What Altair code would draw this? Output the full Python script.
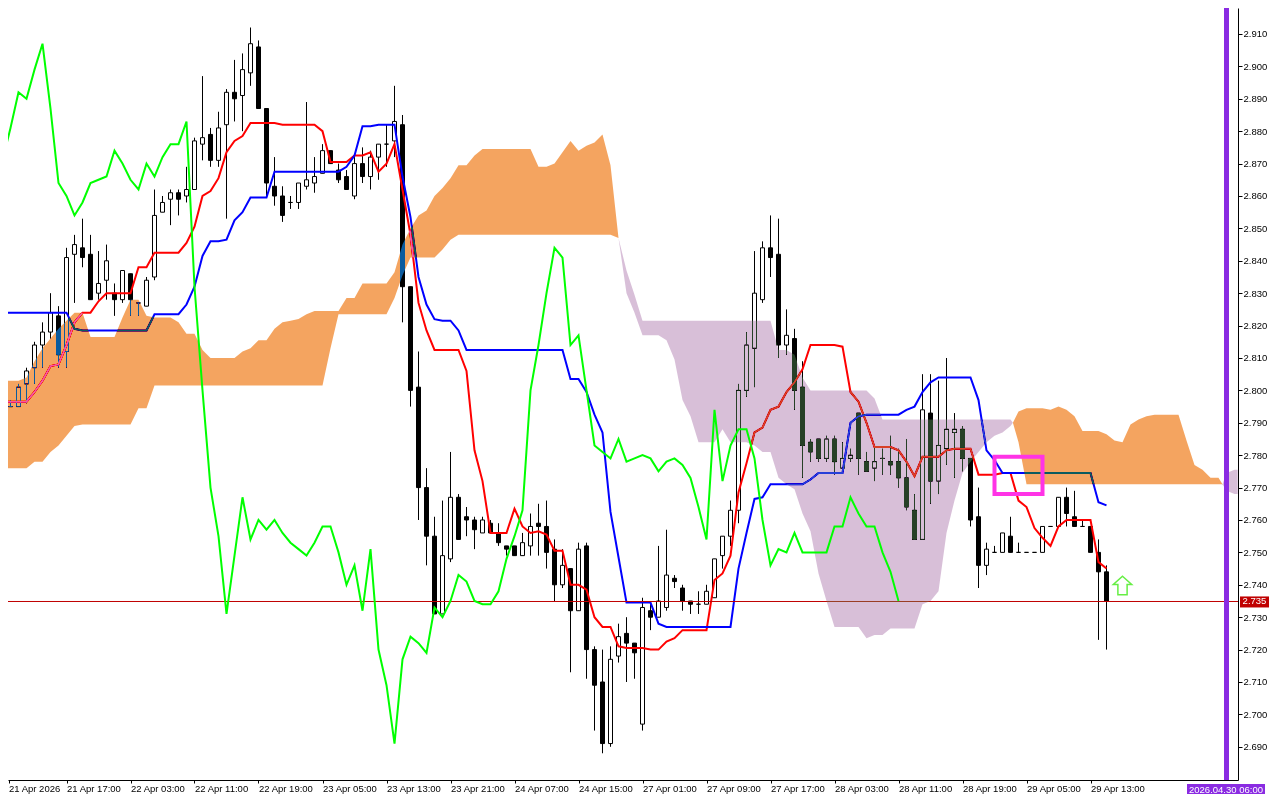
import altair as alt
import pandas as pd

# candles: open, high, low, close
ohlc = [
 (2.808,2.808,2.795,2.795),(2.795,2.797,2.795,2.795),(2.795,2.802,2.795,2.801),(2.802,2.807,2.796,2.806),(2.807,2.815,2.802,2.814),
 (2.814,2.821,2.807,2.818),(2.818,2.830,2.816,2.824),(2.823,2.826,2.807,2.811),(2.812,2.844,2.807,2.841),(2.842,2.848,2.827,2.845),
 (2.844,2.853,2.838,2.841),(2.842,2.848,2.828,2.828),(2.830,2.843,2.828,2.833),(2.834,2.845,2.828,2.840),(2.830,2.833,2.823,2.828),
 (2.828,2.837,2.827,2.837),(2.836,2.836,2.823,2.828),(2.827,2.827,2.823,2.827),(2.826,2.835,2.826,2.834),(2.835,2.862,2.834,2.854),
 (2.855,2.860,2.855,2.858),(2.859,2.862,2.851,2.861),(2.861,2.862,2.854,2.859),(2.860,2.869,2.858,2.862),(2.862,2.878,2.862,2.877),
 (2.876,2.897,2.871,2.878),(2.879,2.881,2.869,2.871),(2.871,2.886,2.869,2.881),(2.882,2.893,2.853,2.892),(2.892,2.902,2.883,2.890),
 (2.891,2.904,2.880,2.899),(2.898,2.912,2.894,2.907),(2.906,2.908,2.887,2.887),(2.887,2.887,2.860,2.864),(2.863,2.872,2.857,2.860),
 (2.860,2.863,2.852,2.854),(2.858,2.860,2.856,2.858),(2.858,2.864,2.856,2.864),(2.863,2.889,2.862,2.865),(2.864,2.872,2.861,2.866),
 (2.867,2.876,2.867,2.874),(2.874,2.874,2.870,2.870),(2.868,2.870,2.864,2.865),(2.866,2.868,2.862,2.862),(2.860,2.872,2.859,2.870),
 (2.870,2.875,2.864,2.866),(2.866,2.874,2.862,2.872),(2.872,2.876,2.865,2.876),(2.876,2.882,2.869,2.876),(2.877,2.894,2.872,2.883),
 (2.882,2.885,2.821,2.832),(2.832,2.832,2.795,2.800),(2.801,2.812,2.760,2.770),(2.770,2.776,2.746,2.755),(2.755,2.761,2.731,2.731),
 (2.731,2.766,2.731,2.749),(2.748,2.781,2.747,2.767),(2.767,2.768,2.754,2.754),(2.761,2.764,2.755,2.760),(2.760,2.761,2.751,2.757),
 (2.756,2.761,2.756,2.760),(2.759,2.760,2.756,2.756),(2.756,2.759,2.752,2.753),(2.752,2.752,2.749,2.751),(2.752,2.752,2.749,2.749),
 (2.749,2.756,2.749,2.753),(2.752,2.762,2.749,2.758),(2.759,2.765,2.749,2.758),(2.758,2.766,2.745,2.750),(2.751,2.754,2.735,2.740),
 (2.740,2.751,2.739,2.746),(2.745,2.745,2.713,2.732),(2.732,2.753,2.732,2.751),(2.752,2.753,2.711,2.720),(2.720,2.721,2.695,2.709),
 (2.710,2.720,2.688,2.691),(2.691,2.721,2.690,2.717),(2.718,2.728,2.716,2.724),(2.725,2.730,2.710,2.722),(2.722,2.722,2.711,2.719),
 (2.697,2.736,2.695,2.733),(2.732,2.735,2.726,2.730),(2.730,2.752,2.730,2.735),(2.733,2.757,2.732,2.743),(2.742,2.743,2.739,2.741),
 (2.739,2.740,2.732,2.735),(2.735,2.735,2.731,2.734),(2.734,2.738,2.731,2.734),(2.734,2.740,2.734,2.738),(2.736,2.748,2.736,2.748),
 (2.749,2.755,2.745,2.755),(2.755,2.766,2.752,2.763),(2.763,2.802,2.759,2.800),(2.800,2.818,2.798,2.814),(2.813,2.843,2.801,2.830),
 (2.828,2.846,2.827,2.844),(2.844,2.854,2.835,2.841),(2.842,2.853,2.810,2.814),(2.814,2.825,2.811,2.817),(2.816,2.819,2.794,2.800),
 (2.801,2.809,2.773,2.783),(2.784,2.785,2.778,2.781),(2.785,2.785,2.778,2.779),(2.779,2.786,2.778,2.785),(2.785,2.786,2.774,2.778),
 (2.776,2.784,2.776,2.779),(2.779,2.782,2.778,2.780),(2.793,2.793,2.774,2.779),(2.778,2.781,2.775,2.775),(2.776,2.783,2.772,2.778),
 (2.779,2.782,2.774,2.779),(2.778,2.786,2.774,2.777),(2.778,2.782,2.770,2.773),(2.773,2.785,2.763,2.764),(2.763,2.768,2.754,2.754),
 (2.754,2.805,2.754,2.794),(2.793,2.805,2.765,2.772),(2.772,2.803,2.768,2.783),(2.782,2.810,2.777,2.788),(2.787,2.793,2.773,2.788),
 (2.788,2.789,2.775,2.779),(2.779,2.779,2.758,2.760),(2.761,2.770,2.739,2.746),(2.746,2.753,2.743,2.751),(2.750,2.752,2.750,2.750),
 (2.750,2.756,2.750,2.756),(2.755,2.761,2.750,2.750),(2.750,2.753,2.750,2.750),(2.750,2.750,2.750,2.750),(2.750,2.750,2.750,2.750),
 (2.750,2.758,2.750,2.758),(2.758,2.758,2.758,2.758),(2.758,2.767,2.758,2.767),(2.767,2.770,2.758,2.762),(2.761,2.769,2.758,2.758),
 (2.758,2.760,2.758,2.758),(2.758,2.758,2.750,2.750),(2.750,2.754,2.723,2.744),(2.744,2.746,2.720,2.735),
]

tenkan = ([2.7965]*4 + [2.7995,2.803,2.8075,2.808,2.814,2.821,2.824,2.824,2.8275] + [2.830]*4 + [2.838,2.838] + [2.8425]*4
  + [2.8455,2.8505,2.860,2.8615,2.8655,2.8735,2.877,2.8785] + [2.8825]*4 + [2.882]*5 + [2.880] + [2.8705]*3 + [2.8725,2.8725,2.8735,2.8675,2.870,2.876,2.862,2.848,2.827,2.8185]
  + [2.8125]*4 + [2.806,2.7815,2.772] + [2.756]*3 + [2.7635,2.758,2.756,2.7565,2.7555,2.7505,2.7505,2.740,2.740,2.7385,2.730,2.727,2.727,2.721]
  + [2.7205]*3 + [2.720,2.720,2.7225,2.7235] + [2.726]*4 + [2.7415,2.7435,2.749,2.7685,2.7775,2.787,2.7885,2.794,2.795,2.7995,2.8025,2.8065]
  + [2.814]*4 + [2.8135,2.7995,2.7965,2.790] + [2.7825]*3 + [2.7815,2.778,2.7735] + [2.7795]*3 + [2.7815] + [2.782]*3 + [2.774]*3 + [2.7745]*2
  + [2.766,2.764,2.7575,2.7545,2.752,2.758] + [2.760]*4 + [2.747,2.745])

kijun = ([2.824]*9 + [2.819] + [2.8185]*9 + [2.8235]*4 + [2.8265,2.832,2.8415,2.846,2.846,2.8465,2.8525,2.855] + [2.8595]*3 + [2.8675]*9
  + [2.869,2.8725,2.8815,2.8815] + [2.882]*3 + [2.866,2.8535,2.835,2.8265,2.822,2.8215,2.8215,2.8185] + [2.8125]*13 + [2.8035,2.8035,2.7995,2.7925,2.787,2.7625,2.7485]
  + [2.7345]*4 + [2.728] + [2.727]*9 + [2.745,2.756,2.7665,2.767] + [2.771]*5 + [2.7725] + [2.7745]*4 + [2.790,2.792] + [2.7925]*5
  + [2.794,2.795,2.7995,2.8025] + [2.804]*5 + [2.797,2.7815,2.7785] + [2.7745]*12 + [2.7655,2.7645])

chikou = [2.871,2.881,2.892,2.890,2.899,2.907,2.887,2.864,2.860,2.854,2.858,2.864,2.865,2.866,2.874,2.870,2.865,2.862,2.870,2.866,
  2.872,2.876,2.876,2.883,2.832,2.800,2.770,2.755,2.731,2.749,2.767,2.754,2.760,2.757,2.760,2.756,2.753,2.751,2.749,2.753,
  2.758,2.758,2.750,2.740,2.746,2.732,2.751,2.720,2.709,2.691,2.717,2.724,2.722,2.719,2.733,2.730,2.735,2.743,2.741,2.735,
  2.734,2.734,2.738,2.748,2.755,2.763,2.800,2.814,2.830,2.844,2.841,2.814,2.817,2.800,2.783,2.781,2.779,2.785,2.778,2.779,
  2.780,2.779,2.775,2.778,2.779,2.777,2.773,2.764,2.754,2.794,2.772,2.783,2.788,2.788,2.779,2.760,2.746,2.751,2.750,2.756,
  2.750,2.750,2.750,2.750,2.758,2.758,2.767,2.762,2.758,2.758,2.750,2.744,2.735]

# Kumo sections: bar position, upper edge, lower edge
bull1_x = list(range(0, 78))
bull1_top = ([2.803]*3 + [2.804,2.809,2.813,2.816,2.819,2.8215,2.824,2.824] + [2.8165]*4 + [2.8225,2.828,2.828,2.823] + [2.8225]*3
  + [2.821,2.8175,2.8175,2.8125] + [2.810]*4 + [2.812,2.813,2.8155,2.8155,2.819,2.821,2.8215,2.822,2.8235] + [2.8245]*4
  + [2.8285,2.8285] + [2.833]*4 + [2.8365,2.845,2.850,2.854,2.8555,2.860,2.8625,2.8655,2.8695,2.8695,2.8725] + [2.8745]*7
  + [2.869,2.869,2.870,2.8735,2.877,2.874,2.8755,2.8765,2.879,2.8695,2.847])
bull1_bot = ([2.776]*4 + [2.778,2.778,2.781,2.783,2.786,2.789] + [2.7895]*7 + [2.7945]*2 + [2.8015]*22 + [2.813] + [2.8235]*7
  + [2.8285,2.8355] + [2.841]*4 + [2.8435,2.8465] + [2.848]*20 + [2.847])

bear1_x = list(range(77, 127)) + [126.3]
bear1_top = ([2.847,2.837,2.8295] + [2.8215]*17 + [2.8125,2.8125,2.811,2.804] + [2.800]*8 + [2.7975] + [2.791]*17 + [2.790])
bear1_bot = ([2.847,2.830,2.824,2.817,2.817,2.817,2.8155,2.8095,2.797,2.792,2.784,2.784,2.784,2.788,2.784,2.784,2.784,2.783,2.781,2.781,
  2.773,2.771,2.7695,2.762,2.7565,2.7435,2.735] + [2.727]*4 + [2.7235,2.7245,2.7245] + [2.7265]*4
  + [2.734,2.735,2.738,2.756,2.766,2.7745,2.778,2.781,2.784,2.786,2.787,2.789,2.790])

bull2_x = [126.3] + list(range(127, 153)) + [152.5]
bull2_top = ([2.790,2.7935,2.7945,2.7945,2.7945,2.794,2.795,2.794,2.792,2.7875,2.7875,2.7875,2.7865,2.7845,2.784,2.7895,2.791,2.792]
  + [2.7925]*4 + [2.7845,2.777,2.7755,2.773,2.773,2.771])
bull2_bot = [2.790,2.784] + [2.771]*25 + [2.771]

bear2_x = [152.5, 153, 154, 154.4]
bear2_top = [2.771, 2.7745, 2.7755, 2.7755]
bear2_bot = [2.771, 2.769, 2.768, 2.768]

price_now = 2.735
price_ticks = [2.69,2.70,2.71,2.72,2.73,2.74,2.75,2.76,2.77,2.78,2.79,2.80,2.81,2.82,2.83,2.84,2.85,2.86,2.87,2.88,2.89,2.90,2.91]
time_labels = ["21 Apr 2026","21 Apr 17:00","22 Apr 03:00","22 Apr 11:00","22 Apr 19:00","23 Apr 05:00","23 Apr 13:00","23 Apr 21:00",
  "24 Apr 07:00","24 Apr 15:00","27 Apr 01:00","27 Apr 09:00","27 Apr 17:00","28 Apr 03:00","28 Apr 11:00","28 Apr 19:00","29 Apr 05:00","29 Apr 13:00"]
time_ticks = [0.75] + [8*k for k in range(1, 18)]

candles = pd.DataFrame(ohlc, columns=["o","h","l","c"])
candles["i"] = range(len(candles))
candles["dir"] = ["up" if c > o else "down" for o, c in zip(candles.o, candles.c)]

FONT = "Liberation Sans"
xs = alt.Scale(domain=[0.6875, 154.4375], nice=False, zero=False, padding=0)
ys = alt.Scale(domain=[2.67975, 2.91802], nice=False, zero=False)
xaxis = alt.Axis(values=time_ticks, title=None, grid=False, tickSize=3, labelAlign="left", labelPadding=0, labelOverlap=False, labelFlush=False,
                 labelExpr="[" + ",".join("'%s'" % t for t in time_labels) + "][round(datum.value/8)]")
yaxis = alt.Axis(values=price_ticks, format=".3f", orient="right", title=None, grid=False, tickSize=4, labelPadding=1, labelOverlap=False)
X = lambda f: alt.X(f, scale=xs, axis=xaxis, title=None)
Y = lambda f: alt.Y(f, scale=ys, axis=yaxis, title=None)

wicks = alt.Chart(candles).mark_rule(color="black", strokeWidth=1).encode(x=X("i:Q"), y=Y("l:Q"), y2="h:Q")
bodies = alt.Chart(candles).mark_bar(size=4, stroke="black", strokeWidth=1).encode(
    x=X("i:Q"), y=Y("o:Q"), y2="c:Q",
    fill=alt.Fill("dir:N", scale=alt.Scale(domain=["up","down"], range=["white","black"]), legend=None))

def line(values, color):
    df = pd.DataFrame({"i": range(len(values)), "v": values})
    return alt.Chart(df).mark_line(color=color, strokeWidth=2, interpolate="linear").encode(x=X("i:Q"), y=Y("v:Q"))

def kumo(xv, top, bot, color):
    df = pd.DataFrame({"i": xv, "t": top, "b": bot})
    return alt.Chart(df).mark_area(color=color, blend="difference", interpolate="linear").encode(x=X("i:Q"), y=Y("t:Q"), y2="b:Q")

price_line = alt.Chart(pd.DataFrame({"p":[price_now]})).mark_rule(color="#C00000", strokeWidth=1, yOffset=0.5).encode(y=Y("p:Q"))
# colours are the complement of sandybrown and thistle, so white shows the cloud colour and black candles turn blue / dark green
clouds = [kumo(bull1_x, bull1_top, bull1_bot, "#0B5B9F"), kumo(bear1_x, bear1_top, bear1_bot, "#274027"),
          kumo(bull2_x, bull2_top, bull2_bot, "#0B5B9F"), kumo(bear2_x, bear2_top, bear2_bot, "#274027")]

box = alt.Chart(pd.DataFrame({"x":[124],"x2":[130],"y":[2.7795],"y2":[2.768]})).mark_rect(
    filled=False, stroke="#FF33E6", strokeWidth=4).encode(x=X("x:Q"), x2="x2:Q", y=Y("y:Q"), y2="y2:Q")
arrow = alt.Chart(pd.DataFrame({"x":[140],"y":[2.7398]})).mark_point(
    shape="M0,-1L1,-0.1L0.5,-0.1L0.5,1L-0.5,1L-0.5,-0.1L-1,-0.1Z", size=340, filled=True, fill="white",
    stroke="#66EE44", strokeWidth=1.5, opacity=1).encode(x=X("x:Q"), y=Y("y:Q"))
vline = alt.Chart(pd.DataFrame({"x":[153]})).mark_rule(color="#8A2BE2", strokeWidth=5).encode(x=X("x:Q"))

tag = alt.Chart(pd.DataFrame({"a":[2.7364],"b":[2.7330]})).mark_rect(color="#C00000").encode(
    x=alt.value(1232), x2=alt.value(1261), y=Y("a:Q"), y2="b:Q")
tag_text = alt.Chart(pd.DataFrame({"p":[price_now],"t":["2.735"]})).mark_text(
    color="white", font=FONT, fontSize=9.5, align="center", baseline="middle").encode(x=alt.value(1246.5), y=Y("p:Q"), text="t:N")
date_box = alt.Chart(pd.DataFrame({"t":["2026.04.30 06:00"]})).mark_rect(color="#8A2BE2").encode(
    x=alt.value(1179), x2=alt.value(1257), y=alt.value(776), y2=alt.value(787))
date_text = alt.Chart(pd.DataFrame({"t":["2026.04.30 06:00"]})).mark_text(
    color="white", font=FONT, fontSize=9.5, align="center", baseline="middle").encode(x=alt.value(1218), y=alt.value(781.5), text="t:N")

chart = alt.layer(
    wicks, bodies, line(tenkan, "#FF0000"), line(kijun, "#0000FF"), price_line, *clouds,
    line(chikou, "#00FF00"), box, arrow, vline, tag, tag_text, date_box, date_text
).properties(
    width=1230, height=772, background="white",
    autosize=alt.AutoSizeParams(type="none"),
    padding={"left":0,"top":0,"right":34,"bottom":14},
).configure_view(stroke=None).configure_axis(
    domainColor="black", tickColor="black", labelColor="black", labelFont=FONT, labelFontSize=9.5
).resolve_scale(fill="independent")

chart.save("out.html", embed_options={"renderer": "svg", "actions": False})
